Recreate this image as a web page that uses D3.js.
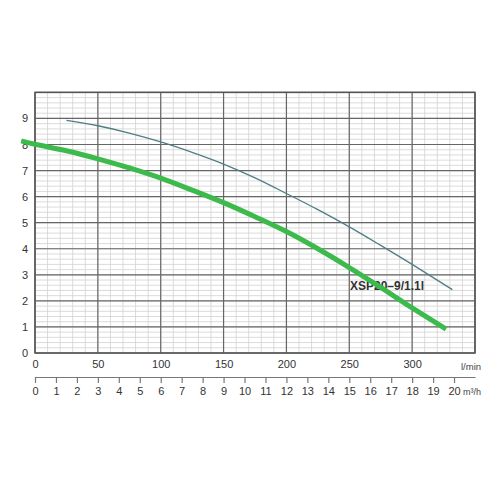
<!DOCTYPE html>
<html>
<head>
<meta charset="utf-8">
<script src="https://cdn.jsdelivr.net/npm/d3@7"></script>
<style>
	body { margin: 0; background: #fff; }
	svg { font-family: "Liberation Sans", Arial, sans-serif; }
	.tickLabel text { fill: #333; font-size: 11px; }
</style>
</head>
<body>
<svg id="chart" width="500" height="500"></svg>
<script>
"use strict";
//pump curve data: flow in l/min, head in m
var thickFlow = [-11, 0, 25, 50, 75, 100, 125, 150, 175, 200, 225, 250, 275, 300, 327];
var thickHead = [8.14, 8.01, 7.76, 7.45, 7.10, 6.71, 6.25, 5.77, 5.23, 4.66, 4.00, 3.28, 2.52, 1.73, 0.92];
var thinFlow = [25, 50, 75, 100, 125, 150, 175, 200, 225, 250, 275, 300, 332];
var thinHead = [8.93, 8.72, 8.44, 8.10, 7.70, 7.25, 6.72, 6.12, 5.50, 4.84, 4.13, 3.40, 2.43];
var flowTicks = [0, 50, 100, 150, 200, 250, 300];
var headTicks = [0, 1, 2, 3, 4, 5, 6, 7, 8, 9];
var cubicTicks = d3.range(0, 21);
var pumpLabel = "XSP20\u20139/1.1l";

var svg = d3.select('#chart');
svg.append('rect').attr('width', 500).attr('height', 500).style('fill', '#fff');

var x = d3.scaleLinear().domain([0, 350]).range([35, 475]);
var y = d3.scaleLinear().domain([0, 10]).range([353, 92.4]);
//m3/h scale lines up with l/min: 350 l/min = 21 m3/h
var xCubic = d3.scaleLinear().domain([0, 21]).range([35, 475]);

//minor grid first, then major lines on top
var grid = svg.append('g');
grid.selectAll('.minorV').data(d3.range(0, 351, 10)).enter().append('line')
	.attr('x1', function(d){ return x(d); })
	.attr('x2', function(d){ return x(d); })
	.attr('y1', y(0)).attr('y2', y(10))
	.style('stroke', '#d2d2d2').style('stroke-width', 0.8);
grid.selectAll('.minorH').data(d3.range(0, 50).map(function(i){ return i * 0.2; })).enter().append('line')
	.attr('x1', x(0)).attr('x2', x(350))
	.attr('y1', function(d){ return y(d); })
	.attr('y2', function(d){ return y(d); })
	.style('stroke', '#d2d2d2').style('stroke-width', 0.8);
grid.selectAll('.majorV').data(d3.range(0, 351, 50)).enter().append('line')
	.attr('x1', function(d){ return x(d); })
	.attr('x2', function(d){ return x(d); })
	.attr('y1', y(0)).attr('y2', y(10))
	.style('stroke', '#666').style('stroke-width', 1.2);
grid.selectAll('.majorH').data(d3.range(0, 11)).enter().append('line')
	.attr('x1', x(0)).attr('x2', x(350))
	.attr('y1', function(d){ return y(d); })
	.attr('y2', function(d){ return y(d); })
	.style('stroke', '#666').style('stroke-width', 1.2);
grid.append('rect')
	.attr('x', x(0)).attr('y', y(10))
	.attr('width', x(350) - x(0)).attr('height', y(0) - y(10))
	.style('fill', 'none').style('stroke', '#555').style('stroke-width', 1.5);

//axis labels
var yAxis = svg.append('g').attr('class', 'tickLabel')
	.attr('transform', 'translate(' + x(0) + ',0)')
	.call(d3.axisLeft(y).tickValues(headTicks).tickSize(0).tickPadding(7));
yAxis.select('.domain').remove();

var xAxis = svg.append('g').attr('class', 'tickLabel')
	.attr('transform', 'translate(0,' + y(0) + ')')
	.call(d3.axisBottom(x).tickValues(flowTicks).tickSize(0).tickPadding(7));
xAxis.select('.domain').remove();

var cubicAxis = svg.append('g').attr('class', 'tickLabel')
	.attr('transform', 'translate(0,377)')
	.call(d3.axisBottom(xCubic).tickValues(cubicTicks).tickSizeInner(6).tickSizeOuter(0).tickPadding(4));
cubicAxis.select('.domain').style('stroke', '#777').style('stroke-width', 1.2);
cubicAxis.selectAll('.tick line').style('stroke', '#777').style('stroke-width', 1.2);

svg.append('text')
	.attr('x', 461).attr('y', 370)
	.style('font-size', '9.5px').style('fill', '#444')
	.text('l/min');
svg.append('text')
	.attr('x', 463).attr('y', 395)
	.style('font-size', '9px').style('fill', '#444')
	.text('m\u00b3/h');

//curve label sits under the green line
svg.append('text')
	.attr('x', 350).attr('y', 290)
	.style('font-size', '12px').style('font-weight', 'bold').style('fill', '#333')
	.text(pumpLabel);

var line = d3.line()
	.x(function(d){ return x(d[0]); })
	.y(function(d){ return y(d[1]); })
	.curve(d3.curveCatmullRom.alpha(0.5));

svg.append('path')
	.datum(d3.zip(thinFlow, thinHead))
	.attr('d', line)
	.style('fill', 'none')
	.style('stroke', '#4f7d85')
	.style('stroke-width', 1.3);

svg.append('path')
	.datum(d3.zip(thickFlow, thickHead))
	.attr('d', line)
	.style('fill', 'none')
	.style('stroke', '#3dba4c')
	.style('stroke-width', 5);
</script>
</body>
</html>
